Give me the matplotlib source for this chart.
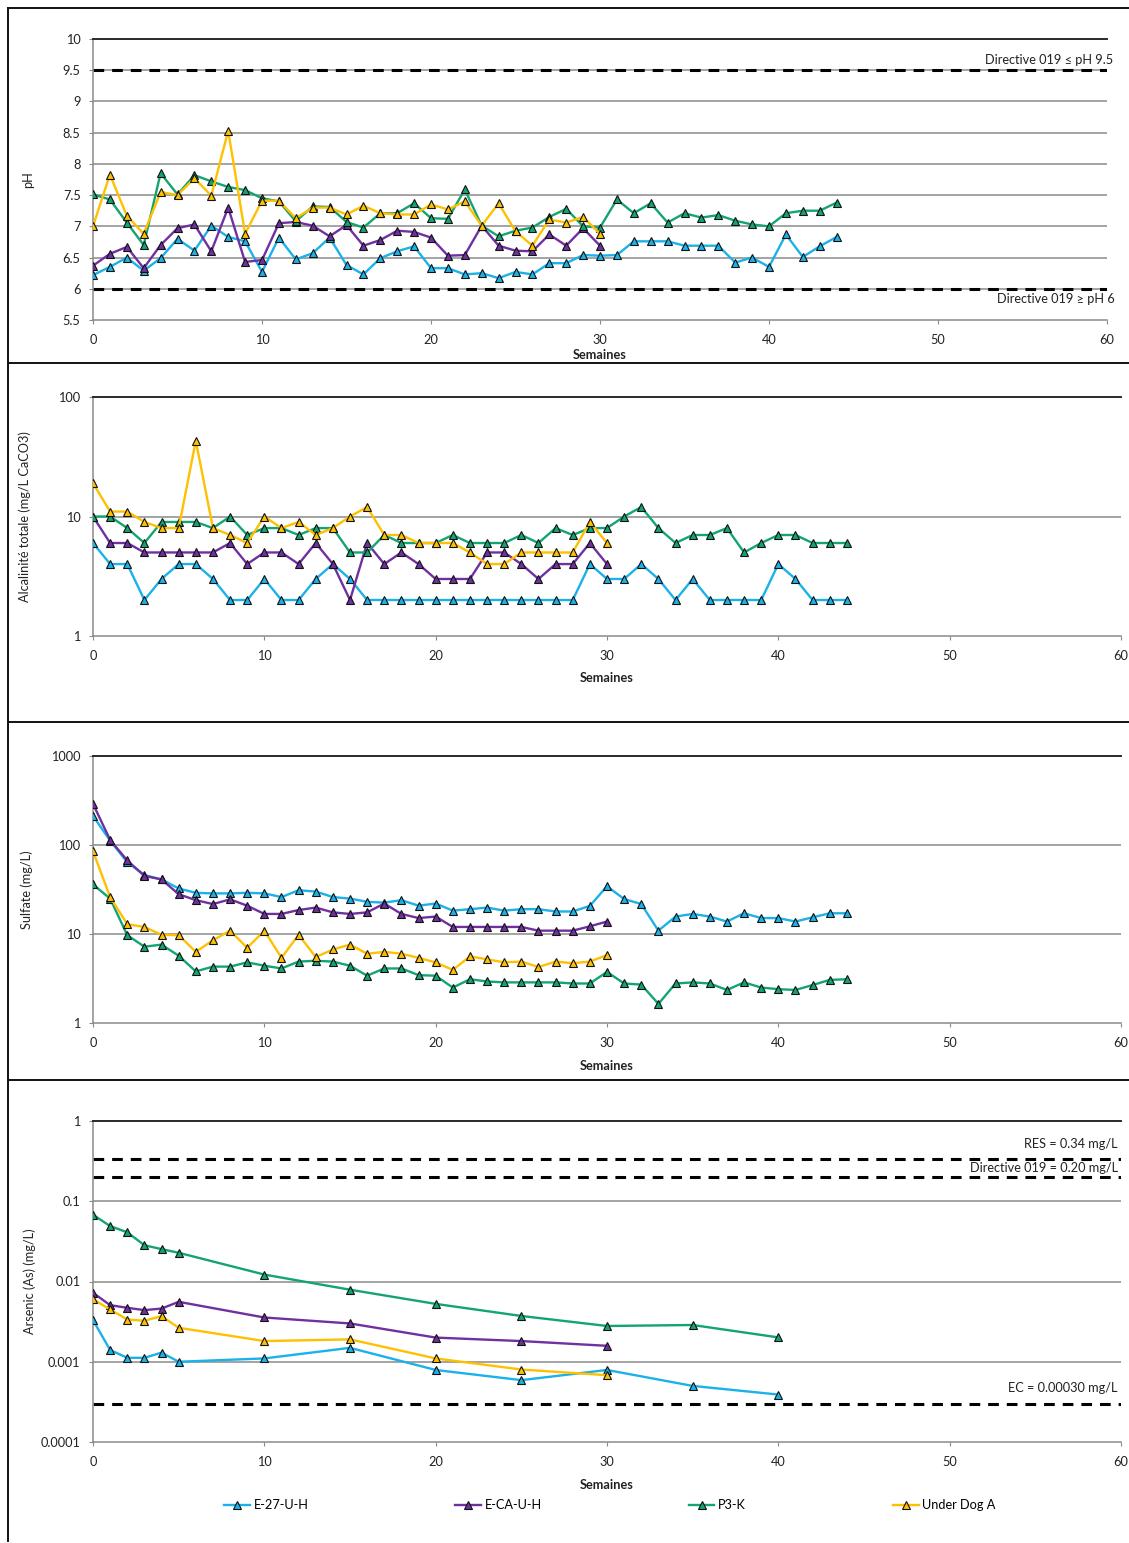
import matplotlib
matplotlib.use("Agg")
import matplotlib.pyplot as plt
from matplotlib.lines import Line2D
from matplotlib.ticker import FixedLocator, NullLocator, FixedFormatter

plt.rcParams['font.family'] = ['Lato', 'DejaVu Sans']

# ---------------- data ----------------
series_names = ["E-27-U-H", "E-CA-U-H", "P3-K", "Under Dog A"]
series_colors = ["#1AB2E8", "#7030A0", "#12A571", "#FFC000"]

weeks_long = list(range(0, 45))   # E-27-U-H, P3-K
weeks_short = list(range(0, 31))  # E-CA-U-H, Under Dog A

ph_e27 = [6.22, 6.35, 6.50, 6.29, 6.49, 6.80, 6.61, 7.01, 6.83, 6.76,
          6.27, 6.82, 6.47, 6.57, 6.82, 6.38, 6.23, 6.49, 6.60, 6.68,
          6.33, 6.33, 6.23, 6.25, 6.17, 6.27, 6.23, 6.41, 6.41, 6.54,
          6.53, 6.54, 6.76, 6.76, 6.76, 6.69, 6.69, 6.69, 6.42, 6.50,
          6.35, 6.87, 6.51, 6.68, 6.83]
ph_eca = [6.37, 6.56, 6.67, 6.33, 6.70, 6.97, 7.03, 6.60, 7.30, 6.43,
          6.46, 7.05, 7.07, 7.01, 6.84, 7.02, 6.69, 6.78, 6.93, 6.91,
          6.82, 6.53, 6.54, 7.01, 6.69, 6.61, 6.60, 6.87, 6.69, 6.97,
          6.69]
ph_p3k = [7.51, 7.43, 7.06, 6.70, 7.85, 7.51, 7.82, 7.72, 7.63, 7.58,
          7.45, 7.40, 7.08, 7.32, 7.31, 7.07, 6.98, 7.21, 7.21, 7.37,
          7.13, 7.12, 7.59, 7.01, 6.84, 6.93, 6.98, 7.15, 7.28, 7.00,
          6.98, 7.43, 7.21, 7.37, 7.06, 7.21, 7.14, 7.18, 7.09, 7.03,
          7.00, 7.21, 7.25, 7.25, 7.38]
ph_uda = [7.00, 7.83, 7.17, 6.88, 7.55, 7.50, 7.77, 7.49, 8.53, 6.88,
          7.41, 7.41, 7.13, 7.30, 7.30, 7.19, 7.33, 7.21, 7.19, 7.19,
          7.35, 7.27, 7.40, 7.01, 7.37, 6.92, 6.69, 7.11, 7.06, 7.15,
          6.88]

alk_e27 = [6, 4, 4, 2, 3, 4, 4, 3, 2, 2,
           3, 2, 2, 3, 4, 3, 2, 2, 2, 2,
           2, 2, 2, 2, 2, 2, 2, 2, 2, 4,
           3, 3, 4, 3, 2, 3, 2, 2, 2, 2,
           4, 3, 2, 2, 2]
alk_eca = [10, 6, 6, 5, 5, 5, 5, 5, 6, 4,
           5, 5, 4, 6, 4, 2, 6, 4, 5, 4,
           3, 3, 3, 5, 5, 4, 3, 4, 4, 6,
           4]
alk_p3k = [10, 10, 8, 6, 9, 9, 9, 8, 10, 7,
           8, 8, 7, 8, 8, 5, 5, 7, 6, 6,
           6, 7, 6, 6, 6, 7, 6, 8, 7, 8,
           8, 10, 12, 8, 6, 7, 7, 8, 5, 6,
           7, 7, 6, 6, 6]
alk_uda = [19, 11, 11, 9, 8, 8, 43, 8, 7, 6,
           10, 8, 9, 7, 8, 10, 12, 7, 7, 6,
           6, 6, 5, 4, 4, 5, 5, 5, 5, 9,
           6]

sul_e27 = [212, 112, 64, 46, 41, 32.5, 29, 28.6, 28.6, 29,
           28.6, 26, 31, 30, 26, 25, 23, 22.5, 24, 20.8,
           22, 18.3, 19, 19.8, 18.3, 19, 19, 17.9, 17.9, 20.7,
           34.4, 24.7, 21.7, 10.9, 15.7, 16.8, 15.7, 13.8, 17.1, 15.1,
           15.1, 13.8, 15.4, 17.1, 17.1]
sul_eca = [290, 114, 67, 45, 41, 28, 24, 21.7, 24.5, 20.8,
           16.8, 16.8, 18.6, 19.8, 17.5, 16.8, 17.5, 22, 16.8, 15.1,
           15.7, 12, 12, 12, 12, 12, 10.9, 10.9, 10.9, 12.2,
           13.8]
sul_p3k = [36, 25, 9.7, 7.2, 7.6, 5.7, 3.8, 4.3, 4.3, 4.8,
           4.4, 4.1, 4.9, 5.0, 4.9, 4.4, 3.4, 4.1, 4.1, 3.45,
           3.4, 2.5, 3.1, 2.93, 2.86, 2.86, 2.86, 2.86, 2.78, 2.78,
           3.75, 2.78, 2.7, 1.64, 2.78, 2.86, 2.78, 2.35, 2.86, 2.5,
           2.4, 2.35, 2.67, 3.05, 3.1]
sul_uda = [85, 26, 12.9, 12, 9.8, 9.7, 6.3, 8.5, 10.9, 7,
           10.9, 5.4, 9.8, 5.5, 6.7, 7.6, 6.0, 6.3, 6.0, 5.4,
           4.8, 3.95, 5.6, 5.2, 4.8, 4.9, 4.26, 4.9, 4.7, 4.9,
           5.8]

as_weeks_long = [0, 1, 2, 3, 4, 5, 10, 15, 20, 25, 30, 35, 40]
as_weeks_short = [0, 1, 2, 3, 4, 5, 10, 15, 20, 25, 30]
as_e27 = [0.0033, 0.0014, 0.00112, 0.00112, 0.0013, 0.0010, 0.0011, 0.00149,
          0.00079, 0.00059, 0.00079, 0.00050, 0.00039]
as_eca = [0.00723, 0.00507, 0.0047, 0.0044, 0.0046, 0.00558, 0.00356, 0.0030,
          0.0020, 0.00181, 0.00158]
as_p3k = [0.068, 0.049, 0.041, 0.0283, 0.0253, 0.0228, 0.0122, 0.0079,
          0.00526, 0.00372, 0.00279, 0.00287, 0.00201]
as_uda = [0.0060, 0.00448, 0.00336, 0.00324, 0.0037, 0.00265, 0.00181, 0.0019,
          0.0011, 0.0008, 0.00068]

ph_limits = [9.5, 6.0]
ph_limit_labels = ["Directive 019 \u2264 pH 9.5", "Directive 019 \u2265 pH 6"]
as_limits = [0.34, 0.20, 0.00030]
as_limit_labels = ["RES = 0.34 mg/L", "Directive 019 = 0.20 mg/L", "EC = 0.00030 mg/L"]

x_ticks = [0, 10, 20, 30, 40, 50, 60]
ph_ticks = [5.5, 6, 6.5, 7, 7.5, 8, 8.5, 9, 9.5, 10]
ph_tick_labels = ["5.5", "6", "6.5", "7", "7.5", "8", "8.5", "9", "9.5", "10"]
alk_ticks = [1, 10, 100]
alk_tick_labels = ["1", "10", "100"]
sul_ticks = [1, 10, 100, 1000]
sul_tick_labels = ["1", "10", "100", "1000"]
as_ticks = [0.0001, 0.001, 0.01, 0.1, 1]
as_tick_labels = ["0.0001", "0.001", "0.01", "0.1", "1"]

# ---------------- figure ----------------
W, H = 1129, 1543
fig = plt.figure(figsize=(W / 100, H / 100), dpi=100)
fig.patch.set_facecolor("white")

FS = 9.2
GRID = "#8a8a8a"
TXT = "#222222"


def rect(l, t, r, b):
    return [l / W, 1 - b / H, (r - l) / W, (b - t) / H]


def style(ax, yticks, ylabels, ylab, ylab_x, log=False, sem_off=42, h=0):
    ax.set_xlim(0, 60)
    ax.xaxis.set_major_locator(FixedLocator(x_ticks))
    ax.set_xticklabels([str(v) for v in x_ticks])
    if log:
        ax.set_yscale("log")
    ax.set_ylim(yticks[0], yticks[-1])
    ax.yaxis.set_major_locator(FixedLocator(yticks))
    ax.yaxis.set_major_formatter(FixedFormatter(ylabels))
    ax.yaxis.set_minor_locator(NullLocator())
    ax.xaxis.set_minor_locator(NullLocator())
    for yv in yticks[1:-1]:
        ax.axhline(yv, color=GRID, lw=1.1, zorder=1)
    ax.spines["right"].set_visible(False)
    ax.spines["top"].set_color("#2a2a2a")
    ax.spines["top"].set_linewidth(1.4)
    ax.spines["left"].set_color(GRID)
    ax.spines["bottom"].set_color(GRID)
    ax.spines["left"].set_linewidth(1.1)
    ax.spines["bottom"].set_linewidth(1.1)
    ax.tick_params(axis="both", direction="out", length=3, width=0.8,
                   color=GRID, labelsize=FS, labelcolor=TXT)
    ax.tick_params(axis="y", pad=6)
    ax.tick_params(axis="x", pad=7)
    ax.set_ylabel(ylab, fontsize=FS, color=TXT)
    ax.yaxis.set_label_coords(ylab_x, 0.5)
    ax.text(0.5, -sem_off / h, "Semaines", transform=ax.transAxes,
            ha="center", va="center", fontsize=FS, fontweight="bold", color=TXT)


def plot_series(ax, xs_list, ys_list):
    for xs, ys, c, n in zip(xs_list, ys_list, series_colors, series_names):
        ax.plot(xs, ys, color=c, lw=1.7, marker="^", ms=5.5,
                markerfacecolor=c, markeredgecolor="#111111",
                markeredgewidth=0.8, zorder=3, label=n)


def dashed(ax, y):
    ax.axhline(y, color="black", lw=2.2, dashes=(3.5, 2.6), zorder=2)


# Panel 1: pH
ax1 = fig.add_axes(rect(93, 39, 1107, 320))
plot_series(ax1, [weeks_long, weeks_short, weeks_long, weeks_short],
            [ph_e27, ph_eca, ph_p3k, ph_uda])
style(ax1, ph_ticks, ph_tick_labels, "pH", -0.058, sem_off=35, h=281)
for yv in ph_limits:
    dashed(ax1, yv)
ax1.annotate(ph_limit_labels[0], xy=(1, ph_limits[0]), xycoords=("axes fraction", "data"),
             xytext=(6, 10), textcoords="offset pixels", ha="right", va="center",
             fontsize=FS, color=TXT)
ax1.annotate(ph_limit_labels[1], xy=(1, ph_limits[1]), xycoords=("axes fraction", "data"),
             xytext=(8, -10), textcoords="offset pixels", ha="right", va="center",
             fontsize=FS, color=TXT)

# Panel 2: Alkalinity
ax2 = fig.add_axes(rect(93, 397, 1121, 636))
plot_series(ax2, [weeks_long, weeks_short, weeks_long, weeks_short],
            [alk_e27, alk_eca, alk_p3k, alk_uda])
style(ax2, alk_ticks, alk_tick_labels, "Alcalinité totale (mg/L CaCO3)", -0.060,
      log=True, sem_off=42, h=239)

# Panel 3: Sulfate
ax3 = fig.add_axes(rect(93, 756, 1121, 1023))
plot_series(ax3, [weeks_long, weeks_short, weeks_long, weeks_short],
            [sul_e27, sul_eca, sul_p3k, sul_uda])
style(ax3, sul_ticks, sul_tick_labels, "Sulfate (mg/L)", -0.058,
      log=True, sem_off=43, h=267)

# Panel 4: Arsenic
ax4 = fig.add_axes(rect(93, 1121, 1121, 1442))
plot_series(ax4, [as_weeks_long, as_weeks_short, as_weeks_long, as_weeks_short],
            [as_e27, as_eca, as_p3k, as_uda])
style(ax4, as_ticks, as_tick_labels, "Arsenic (As) (mg/L)", -0.055,
      log=True, sem_off=43, h=321)
for yv in as_limits:
    dashed(ax4, yv)
for yv, lab, dy in zip(as_limits, as_limit_labels, [15, 9, 16]):
    ax4.annotate(lab, xy=(1, yv), xycoords=("axes fraction", "data"),
                 xytext=(-3, dy), textcoords="offset pixels", ha="right", va="center",
                 fontsize=FS, color=TXT)

handles, labels = ax4.get_legend_handles_labels()
fig.legend(handles, labels, loc="center", bbox_to_anchor=(610 / W, 1 - 1505 / H),
           ncol=4, frameon=False, fontsize=FS, columnspacing=11.5,
           handlelength=2.0, handletextpad=0.3)

# Chart borders
def fline(x0, y0, x1, y1, lw=1.4):
    fig.add_artist(Line2D([x0 / W, x1 / W], [1 - y0 / H, 1 - y1 / H],
                          color="#111111", lw=lw, transform=fig.transFigure))

fline(8, 8, W, 8)
fline(8, 8, 8, 1541)
for yy in [363, 722, 1080]:
    fline(8, yy, W, yy)

fig.savefig("out.png", dpi=100, facecolor="white")
